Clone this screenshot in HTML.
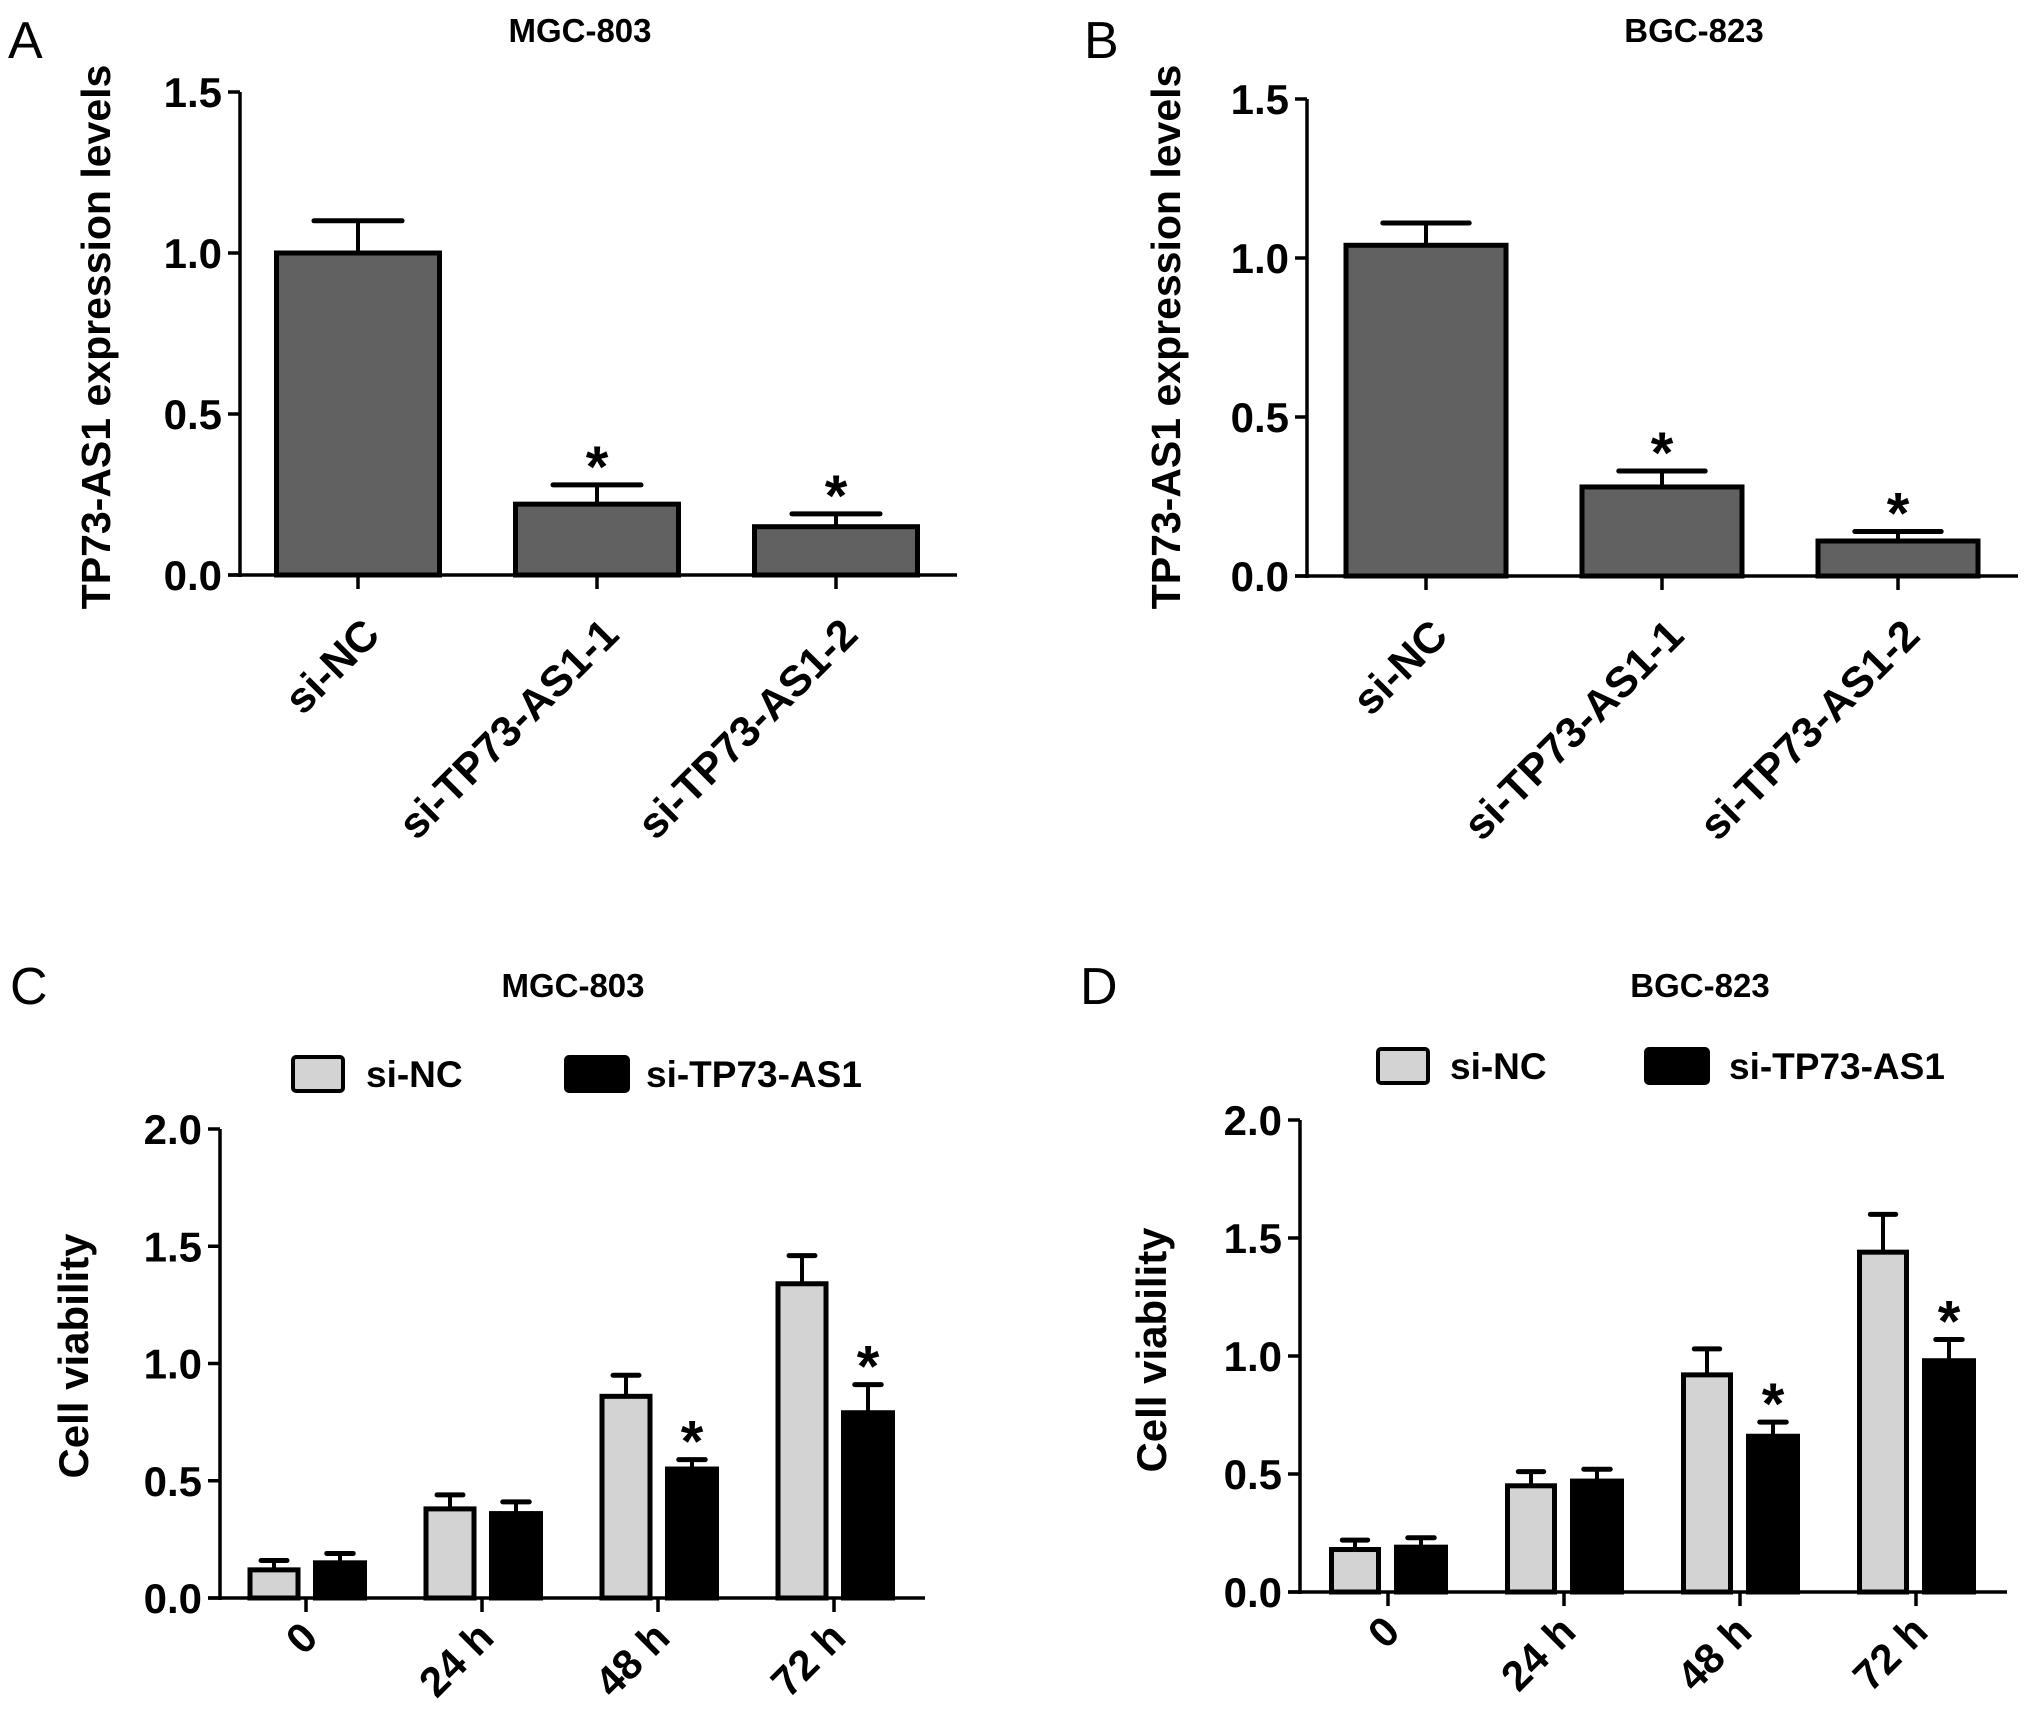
<!DOCTYPE html>
<html><head><meta charset="utf-8"><style>
body{margin:0;background:#fff}
svg{display:block;font-family:"Liberation Sans",Arial,sans-serif}
</style></head><body>
<svg id="fig" width="2031" height="1710" viewBox="0 0 2031 1710" xmlns="http://www.w3.org/2000/svg">
<text x="8" y="58" font-size="52">A</text>
<text x="1084" y="58" font-size="52">B</text>
<text x="10" y="1004" font-size="52">C</text>
<text x="1080" y="1004" font-size="52">D</text>
</svg>
<script>
const catsAB = ["si-NC","si-TP73-AS1-1","si-TP73-AS1-2"];
const valsA = [1.0,0.22,0.15];
const errA = [0.10,0.06,0.04];
const starA = [false,true,true];
const valsB = [1.04,0.28,0.11];
const errB = [0.07,0.05,0.03];
const starB = [false,true,true];
const ticksAB = [0,0.5,1.0,1.5];
const catsCD = ["0","24 h","48 h","72 h"];
const ncC = [0.12,0.38,0.86,1.34];
const ncErrC = [0.04,0.06,0.09,0.12];
const siC = [0.15,0.36,0.55,0.79];
const siErrC = [0.04,0.05,0.04,0.12];
const starC = [false,false,true,true];
const ncD = [0.18,0.45,0.92,1.44];
const ncErrD = [0.04,0.06,0.11,0.16];
const siD = [0.19,0.47,0.66,0.98];
const siErrD = [0.04,0.05,0.06,0.09];
const starD = [false,false,true,true];
const ticksCD = [0,0.5,1.0,1.5,2.0];

const NS="http://www.w3.org/2000/svg";
const svg=document.getElementById('fig');
function el(tag,attrs,parent,text){const e=document.createElementNS(NS,tag);for(const k in attrs)e.setAttribute(k,attrs[k]);if(text!==undefined)e.textContent=text;(parent||svg).appendChild(e);return e;}

function panel(id,cfg){
  const g=el('g',{});
  
  
  const y=v=>cfg.y0-(v/cfg.ymax)*(cfg.y0-cfg.ytop);
  const t=el('text',{x:cfg.titleX,y:cfg.titleY,'font-size':33,'font-weight':'bold','text-anchor':'middle'},g,cfg.title);
  
  
  const yt=el('text',{x:0,y:0,'font-size':cfg.ytFont,'font-weight':'bold','text-anchor':'middle',transform:`translate(${cfg.ytX},${cfg.ytY}) rotate(-90)`},g,cfg.ytitle);
  
  
  const ya=el('line',{x1:cfg.ax,x2:cfg.ax,y1:y(cfg.ticks[cfg.ticks.length-1]),y2:cfg.y0+2,stroke:'#000','stroke-width':3.5},g);
  
  
  const xa=el('line',{x1:cfg.ax-12,x2:cfg.axEnd,y1:cfg.y0,y2:cfg.y0,stroke:'#000','stroke-width':3.5},g);
  
  
  cfg.ticks.forEach(v=>{
    el('line',{x1:cfg.ax-12,x2:cfg.ax,y1:y(v),y2:y(v),stroke:'#000','stroke-width':3.5},g);
    const tl=el('text',{x:cfg.ax-18,y:y(v)+15,'font-size':42,'font-weight':'bold','text-anchor':'end'},g,v.toFixed(1));
    
    
  });
  cfg.cats.forEach((c,i)=>{
    const tx=cfg.tickX[i];
    el('line',{x1:tx,x2:tx,y1:cfg.y0,y2:cfg.y0+14,stroke:'#000','stroke-width':3.5},g);
    const xl=el('text',{x:0,y:0,'font-size':cfg.xFont,'font-weight':'bold','text-anchor':'end',transform:`translate(${tx+cfg.xlDx},${cfg.y0+cfg.xlDy}) rotate(-45)`},g,c);
    
    
  });
  cfg.series.forEach(s=>{
    s.vals.forEach((v,i)=>{
      const cx=cfg.tickX[i]+s.off, w=s.w;
      const top=y(v), et=y(v+s.err[i]);
      el('line',{x1:cx,x2:cx,y1:top,y2:et,stroke:'#000','stroke-width':4},g);
      el('line',{x1:cx-w*0.27,x2:cx+w*0.27,y1:et,y2:et,stroke:'#000','stroke-width':5,'stroke-linecap':'round'},g);
      const r=el('rect',{x:cx-w/2,y:top,width:w,height:cfg.y0-top,fill:s.fill,stroke:'#000','stroke-width':5},g);
      
      
      if(s.star[i]){
        const st=el('text',{x:cx,y:et+2,'font-size':58,'font-weight':'bold','text-anchor':'middle'},g,'*');
        
        
      }
    });
  });
  (cfg.legend||[]).forEach(L=>{
    const lb=el('rect',{x:L.x,y:L.y-17,width:L.w,height:34,rx:3,fill:L.fill,stroke:'#000','stroke-width':4},g);
    
    
    const lt=el('text',{x:L.tx,y:L.y+13,'font-size':37,'font-weight':'bold'},g,L.label);
    
    
  });
}
const none=[false,false,false,false];
panel('panel-a',{title:'MGC-803',titleX:580,titleY:42,ytitle:'TP73-AS1 expression levels',ytFont:41,ytX:110,ytY:337,xFont:43,xlDx:24,xlDy:62,
  ax:240,axEnd:957,y0:575,ytop:92,ymax:1.5,ticks:ticksAB,cats:catsAB,tickX:[358,597,836],
  series:[{vals:valsA,err:errA,star:starA,off:0,w:163,fill:'#616161'}]});
panel('panel-b',{title:'BGC-823',titleX:1694,titleY:42,ytitle:'TP73-AS1 expression levels',ytFont:41,ytX:1180,ytY:337,xFont:43,xlDx:24,xlDy:62,
  ax:1307,axEnd:2018,y0:576,ytop:99,ymax:1.5,ticks:ticksAB,cats:catsAB,tickX:[1426,1662,1898],
  series:[{vals:valsB,err:errB,star:starB,off:0,w:160,fill:'#616161'}]});
panel('panel-c',{title:'MGC-803',titleX:573,titleY:997,ytitle:'Cell viability',ytFont:42,ytX:88,ytY:1356,xFont:42,xlDx:14,xlDy:42,
  ax:220,axEnd:925,y0:1598,ytop:1129,ymax:2.0,ticks:ticksCD,cats:catsCD,tickX:[306,482,658,834],
  series:[{vals:ncC,err:ncErrC,star:none,off:-32,w:48,fill:'#d3d3d3'},{vals:siC,err:siErrC,star:starC,off:34,w:49,fill:'#000'}],
  legend:[{x:293,y:1074,w:50,fill:'#d3d3d3',tx:366,label:'si-NC'},{x:566,y:1074,w:62,fill:'#000',tx:646,label:'si-TP73-AS1'}]});
panel('panel-d',{title:'BGC-823',titleX:1700,titleY:997,ytitle:'Cell viability',ytFont:42,ytX:1166,ytY:1350,xFont:42,xlDx:14,xlDy:42,
  ax:1300,axEnd:2007,y0:1592,ytop:1120,ymax:2.0,ticks:ticksCD,cats:catsCD,tickX:[1388,1564,1740,1916],
  series:[{vals:ncD,err:ncErrD,star:none,off:-33,w:47,fill:'#d3d3d3'},{vals:siD,err:siErrD,star:starD,off:33,w:49,fill:'#000'}],
  legend:[{x:1378,y:1066,w:50,fill:'#d3d3d3',tx:1450,label:'si-NC'},{x:1646,y:1066,w:62,fill:'#000',tx:1729,label:'si-TP73-AS1'}]});
</script>
</body></html>
